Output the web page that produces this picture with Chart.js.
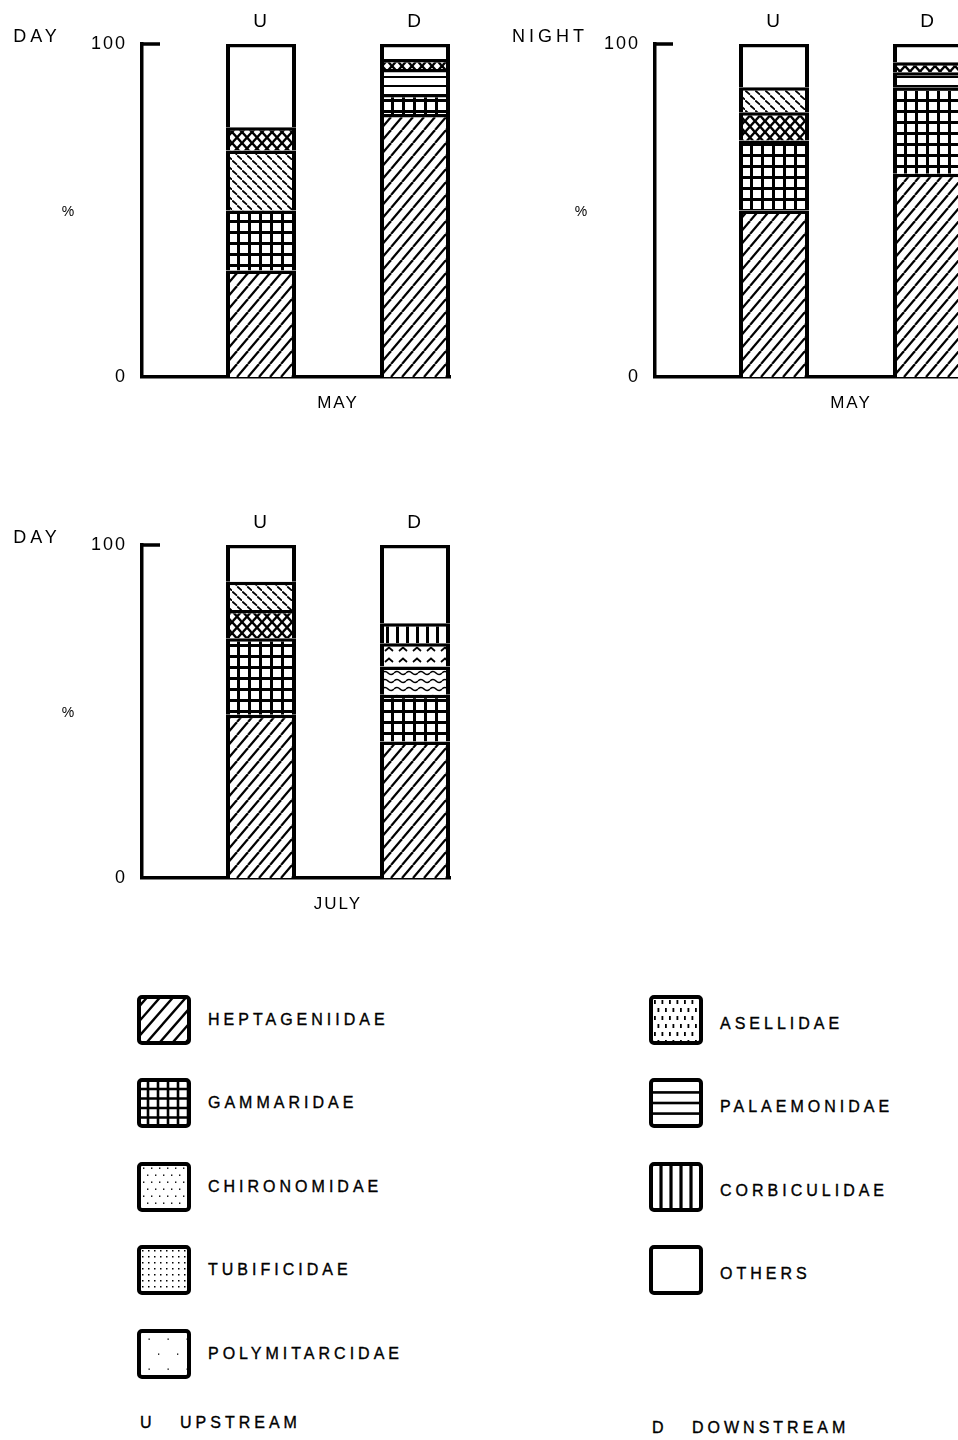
<!DOCTYPE html>
<html>
<head>
<meta charset="utf-8">
<title>Drift composition, upstream vs downstream</title>
<script src="https://cdn.jsdelivr.net/npm/chart.js@4.4.0/dist/chart.umd.min.js"></script>
<style>
  html, body { margin: 0; padding: 0; background: #fff; }
  body {
    width: 958px; height: 1440px; position: relative; overflow: hidden;
    font-family: "Liberation Sans", Arial, sans-serif; color: #000;
  }
  .panel { position: absolute; }
  .swatch { position: absolute; }
  .legend-label {
    position: absolute; font-size: 16px; letter-spacing: 4px; line-height: 20px; white-space: nowrap;
    -webkit-text-stroke: 0.35px #000;
  }
</style>
</head>
<body>
<canvas id="mayDay" class="panel" width="528" height="430" style="left:-38px;top:0"></canvas>
<canvas id="mayNight" class="panel" width="528" height="430" style="left:475px;top:0"></canvas>
<canvas id="julyDay" class="panel" width="528" height="430" style="left:-38px;top:501px"></canvas>
<div id="legend"></div>

<script>
// Families, same order as the legend
const families = ['HEPTAGENIIDAE', 'GAMMARIDAE', 'CHIRONOMIDAE', 'TUBIFICIDAE', 'POLYMITARCIDAE',
                  'ASELLIDAE', 'PALAEMONIDAE', 'CORBICULIDAE', 'OTHERS'];
const stations = ['U', 'D'];
const stationNames = ['UPSTREAM', 'DOWNSTREAM'];
const yTicks = [0, 100];

// % of sample per family (order = families)
const mayDayUp     = [32, 18, 18,   0, 0, 7,   0,   0, 25];
const mayDayDown   = [79,  6,  0,   0, 0, 3,   7.5, 0, 4.5];
const mayNightUp   = [50, 21,  7.5, 0, 0, 8.5, 0,   0, 13];
const mayNightDown = [61, 26,  0,   0, 0, 3,   4.5, 0, 5.5];
const julyDayUp    = [49, 23,  8.5, 0, 0, 8.5, 0,   0, 11];
const julyDayDown  = [41, 14,  0, 8.5, 7, 0,   0,   6, 23.5];

// bottom-to-top stacking as drawn in each panel
const mayDayStack   = ['HEPTAGENIIDAE', 'GAMMARIDAE', 'CHIRONOMIDAE', 'PALAEMONIDAE', 'ASELLIDAE', 'OTHERS'];
const mayNightStack = ['HEPTAGENIIDAE', 'GAMMARIDAE', 'PALAEMONIDAE', 'ASELLIDAE', 'CHIRONOMIDAE', 'OTHERS'];
const julyDayStack  = ['HEPTAGENIIDAE', 'GAMMARIDAE', 'TUBIFICIDAE', 'POLYMITARCIDAE', 'ASELLIDAE',
                       'CHIRONOMIDAE', 'CORBICULIDAE', 'OTHERS'];

const panels = [
  { id: 'mayDay',   time: 'DAY',   month: 'MAY',  up: mayDayUp,   down: mayDayDown,   stack: mayDayStack },
  { id: 'mayNight', time: 'NIGHT', month: 'MAY',  up: mayNightUp, down: mayNightDown, stack: mayNightStack },
  { id: 'julyDay',  time: 'DAY',   month: 'JULY', up: julyDayUp,  down: julyDayDown,  stack: julyDayStack }
];

const FONT = '"Liberation Sans", Arial, sans-serif';
Chart.defaults.font.family = FONT;
Chart.defaults.color = '#000';

// ---- hatch patterns ----
function tile(w, h, draw) {
  const c = document.createElement('canvas');
  c.width = w; c.height = h;
  const g = c.getContext('2d');
  g.fillStyle = '#fff';
  g.fillRect(0, 0, w, h);
  g.fillStyle = '#000';
  g.strokeStyle = '#000';
  draw(g, w, h);
  return g.createPattern(c, 'repeat');
}

function diag(g, w, h, up) {
  for (let k = -1; k <= 1; k++) {
    g.beginPath();
    if (up) { g.moveTo(k * w, h); g.lineTo(k * w + w, 0); }
    else { g.moveTo(k * w, 0); g.lineTo(k * w + w, h); }
    g.stroke();
  }
}

const barFill = {
  HEPTAGENIIDAE: tile(11, 13, (g, w, h) => { g.lineWidth = 2.2; diag(g, w, h, true); }),
  GAMMARIDAE: tile(11, 11, g => {
    g.fillRect(0, 0, 11, 11);
    g.fillStyle = '#fff';
    g.fillRect(3, 3, 8, 8);
  }),
  CHIRONOMIDAE: tile(10, 10, g => {
    g.lineWidth = 1.8;
    g.lineCap = 'round';
    [[0.8, 1], [5.8, 6]].forEach(([x, y]) => {
      g.beginPath(); g.moveTo(x, y); g.lineTo(x + 3.6, y + 3.2); g.stroke();
    });
  }),
  TUBIFICIDAE: tile(12, 8, g => {
    g.lineWidth = 1.6;
    g.beginPath();
    g.moveTo(0, 4);
    g.quadraticCurveTo(3, 1, 6, 4);
    g.quadraticCurveTo(9, 7, 12, 4);
    g.stroke();
  }),
  POLYMITARCIDAE: tile(14, 11, g => {
    g.lineWidth = 1.7;
    g.beginPath(); g.moveTo(3, 7); g.lineTo(7, 3.5); g.lineTo(11, 7); g.stroke();
  }),
  ASELLIDAE: tile(10, 11, (g, w, h) => {
    g.lineWidth = 2.4;
    diag(g, w, h, true);
    diag(g, w, h, false);
  }),
  PALAEMONIDAE: tile(8, 9, g => { g.fillRect(0, 4, 8, 2); }),
  CORBICULIDAE: tile(10, 8, g => { g.fillRect(4, 0, 3, 8); }),
  OTHERS: '#fff'
};

// time-of-day title, the % label and the short tick at 100
const panelText = {
  id: 'panelText',
  beforeDraw(chart) {
    chart.ctx.letterSpacing = '2px';
  },
  afterDraw(chart, args, opts) {
    const { ctx, chartArea: a, scales } = chart;
    const y100 = scales.y.getPixelForValue(100);
    ctx.save();
    ctx.strokeStyle = '#000';
    ctx.lineWidth = 3.5;
    ctx.beginPath();
    ctx.moveTo(a.left, y100);
    ctx.lineTo(a.left + 18, y100);
    ctx.stroke();

    ctx.fillStyle = '#000';
    ctx.font = '18px ' + FONT;
    ctx.letterSpacing = '4px';
    ctx.textAlign = 'center';
    ctx.textBaseline = 'middle';
    ctx.fillText(opts.time, a.left - 105, a.top - 7);

    ctx.font = '14px ' + FONT;
    ctx.letterSpacing = '0px';
    ctx.fillText('%', a.left - 74, (a.top + a.bottom) / 2 + 2);
    ctx.restore();
  }
};

function fixSize(prop, size) {
  return scale => { scale[prop] = size; };
}

function makeChart(p) {
  const xMin = 1 - 119 / 154;
  const xMax = 2 + 35 / 154;
  return new Chart(document.getElementById(p.id), {
    type: 'bar',
    data: {
      datasets: p.stack.map(name => {
        const i = families.indexOf(name);
        return {
          label: name,
          data: [p.up[i], p.down[i]].map((v, k) => ({ x: k + 1, y: v })),
          backgroundColor: barFill[name],
          borderColor: '#000',
          borderWidth: { top: 3.5, right: 4, bottom: 0, left: 4 },
          borderSkipped: false,
          barThickness: 70,
          inflateAmount: 0
        };
      })
    },
    options: {
      responsive: false,
      animation: false,
      events: [],
      layout: { padding: { left: 0, top: 0, right: 40, bottom: 0 } },
      plugins: {
        legend: { display: false },
        tooltip: { enabled: false },
        panelText: { time: p.time }
      },
      scales: {
        x: {
          type: 'linear', position: 'bottom', stacked: true, min: xMin, max: xMax, z: 1, offset: false,
          afterBuildTicks: axis => { axis.ticks = [{ value: 1.5 }]; },
          afterFit: fixSize('height', 53),
          grid: { display: false, drawTicks: false, offset: false },
          border: { display: true, color: '#000', width: 3.5 },
          ticks: { autoSkip: false, maxRotation: 0, padding: 16, font: { size: 17 }, callback: () => p.month }
        },
        xTop: {
          type: 'linear', position: 'top', min: xMin, max: xMax, offset: false,
          afterBuildTicks: axis => { axis.ticks = stations.map((s, i) => ({ value: i + 1 })); },
          afterFit: fixSize('height', 44),
          grid: { display: false, drawTicks: false, offset: false },
          border: { display: false },
          ticks: { autoSkip: false, maxRotation: 0, padding: 11, font: { size: 19 },
                   callback: v => stations[v - 1] }
        },
        y: {
          stacked: true, min: 0, max: 100,
          afterBuildTicks: axis => { axis.ticks = yTicks.map(v => ({ value: v })); },
          afterFit: fixSize('width', 180),
          grid: { display: false, drawTicks: false },
          border: { display: true, color: '#000', width: 3.5 },
          ticks: { padding: 15, font: { size: 18 } }
        }
      }
    },
    plugins: [panelText]
  });
}

panels.forEach(makeChart);

// ---- legend ----
function swatch(name) {
  const c = document.createElement('canvas');
  c.width = 56; c.height = 52;
  c.className = 'swatch';
  const g = c.getContext('2d');
  const x0 = 3, y0 = 3, w = 50, h = 46;
  g.fillStyle = '#fff';
  g.fillRect(0, 0, 56, 52);
  g.save();
  g.beginPath(); g.rect(x0, y0, w, h); g.clip();
  g.fillStyle = '#000'; g.strokeStyle = '#000';
  const dots = (dx, dy, r, stagger) => {
    for (let y = y0 + dy / 2, row = 0; y < y0 + h; y += dy, row++) {
      for (let x = x0 + dx / 2 + (stagger && row % 2 ? dx / 2 : 0); x < x0 + w; x += dx) {
        g.fillRect(x, y, r, r);
      }
    }
  };
  if (name === 'HEPTAGENIIDAE') {
    g.lineWidth = 2.4;
    for (let x = -60; x < 80; x += 13) { g.beginPath(); g.moveTo(x, 55); g.lineTo(x + 48, 0); g.stroke(); }
  } else if (name === 'GAMMARIDAE') {
    g.lineWidth = 2.6;
    for (let x = x0 + 9; x < x0 + w; x += 10) { g.beginPath(); g.moveTo(x, 0); g.lineTo(x, 52); g.stroke(); }
    for (let y = y0 + 9; y < y0 + h; y += 9.5) { g.beginPath(); g.moveTo(0, y); g.lineTo(56, y); g.stroke(); }
  } else if (name === 'CHIRONOMIDAE') {
    dots(8, 7, 1.4, true);
  } else if (name === 'TUBIFICIDAE') {
    dots(6, 6, 1.5, false);
  } else if (name === 'POLYMITARCIDAE') {
    dots(19, 15, 1.3, true);
  } else if (name === 'ASELLIDAE') {
    for (let y = y0 + 3, row = 0; y < y0 + h; y += 8, row++) {
      for (let x = x0 + 3 + (row % 2 ? 3.5 : 0); x < x0 + w; x += 7.5) g.fillRect(x, y, 1.8, 4);
    }
  } else if (name === 'PALAEMONIDAE') {
    [0.27, 0.5, 0.73].forEach(f => g.fillRect(0, y0 + h * f - 1.3, 56, 2.6));
  } else if (name === 'CORBICULIDAE') {
    [0.2, 0.4, 0.6, 0.8].forEach(f => g.fillRect(x0 + w * f - 1.6, 0, 3.2, 52));
  }
  g.restore();
  g.lineWidth = 4;
  g.strokeStyle = '#000';
  g.beginPath();
  g.roundRect(x0, y0, w, h, 3);
  g.stroke();
  return c;
}

const legend = document.getElementById('legend');
const leftCount = 5;
families.forEach((name, i) => {
  const col = i < leftCount ? 0 : 1;
  const row = col ? i - leftCount : i;
  const left = col ? 648 : 136;
  const top = 994 + row * 83.4;
  const sw = swatch(name);
  sw.style.left = left + 'px';
  sw.style.top = top + 'px';
  legend.appendChild(sw);
  const lab = document.createElement('div');
  lab.className = 'legend-label';
  lab.textContent = name;
  lab.style.left = (left + 72) + 'px';
  lab.style.top = (top + 16 + (col ? 4 : 0)) + 'px';
  legend.appendChild(lab);
});

stations.forEach((s, i) => {
  const el = document.createElement('div');
  el.className = 'legend-label';
  el.textContent = s;
  el.style.left = (i ? 652 : 140) + 'px';
  el.style.top = (i ? 1418 : 1413) + 'px';
  legend.appendChild(el);
  const nm = document.createElement('div');
  nm.className = 'legend-label';
  nm.textContent = stationNames[i];
  nm.style.left = (i ? 692 : 180) + 'px';
  nm.style.top = (i ? 1418 : 1413) + 'px';
  legend.appendChild(nm);
});
</script>
</body>
</html>
